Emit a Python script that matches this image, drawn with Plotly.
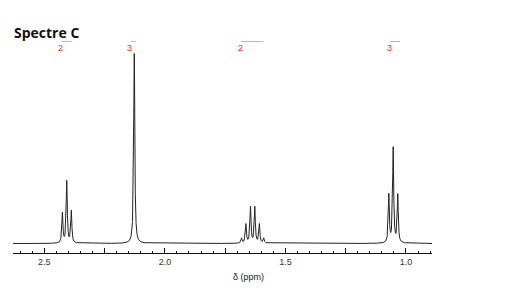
import numpy as np
import plotly.graph_objects as go

# ---- data ----
# individual resonance lines: chemical shift (ppm) and peak height (px above baseline)
line_ppm    = [2.425, 2.407, 2.388,            # triplet ~2.41
               2.127,                          # singlet
               1.682, 1.664, 1.645, 1.627, 1.608, 1.590,   # sextet ~1.64
               1.071, 1.053, 1.034]            # triplet ~1.05
line_height = [30, 62, 32,
               190,
               5, 19, 36, 36, 19, 5,
               48, 95, 48]
line_hwhm = 0.0026  # ppm

# integration regions and values
integ_start = [2.427, 2.142, 1.684, 1.066]
integ_end   = [2.385, 2.120, 1.592, 1.025]
integ_value = ["2", "3", "2", "3"]

tick_vals = [2.5, 2.25, 2.0, 1.75, 1.5, 1.25, 1.0]
tick_text = ["2.5", "", "2.0", "", "1.5", "", "1.0"]

x_min, x_max = 0.892, 2.630

# ---- spectrum (sum of Lorentzian lines) ----
x = np.arange(x_min, x_max, 0.0002)
y = np.zeros_like(x)
for p, h in zip(line_ppm, line_height):
    y += h / (1.0 + ((x - p) / line_hwhm) ** 2)

fig = go.Figure()
fig.add_trace(go.Scatter(x=x, y=y, mode="lines",
                         line=dict(color="#222222", width=1),
                         hoverinfo="skip", showlegend=False))

# integration lines + labels
for s, e, v in zip(integ_start, integ_end, integ_value):
    fig.add_shape(type="line", xref="x", yref="y", x0=s, x1=e, y0=202, y1=202,
                  line=dict(color="#f2a0a8", width=1))
    fig.add_annotation(x=s, y=196, xref="x", yref="y", text=v, showarrow=False,
                       xanchor="center", yanchor="middle", xshift=-1, borderpad=0,
                       font=dict(family="Liberation Sans, Arial", size=9, color="#ff1a1a"))

# title
fig.add_annotation(x=0, y=0.947, xref="paper", yref="paper", text="<b>Spectre C</b>",
                   showarrow=False, xanchor="left", yanchor="middle", borderpad=0,
                   font=dict(family="Open Sans, sans-serif", size=14, color="#111111"))

# axis title
fig.add_annotation(x=1.655, y=-0.103, xref="x", yref="paper", text="δ (ppm)",
                   showarrow=False, xanchor="center", yanchor="middle",
                   font=dict(family="Liberation Sans, Arial", size=9, color="#222222"))

fig.update_layout(
    width=532, height=300,
    margin=dict(l=13, r=100, t=20, b=47),
    paper_bgcolor="white", plot_bgcolor="white",
    xaxis=dict(range=[x_max, x_min], showgrid=False, zeroline=False,
               showline=True, linecolor="#111111", linewidth=1,
               ticks="inside", ticklen=5, tickwidth=1, tickcolor="#111111",
               tickvals=tick_vals, ticktext=tick_text,
               tickfont=dict(family="Liberation Sans, Arial", size=9, color="#333333"),
               minor=dict(dtick=0.05, ticks="inside", ticklen=2, tickcolor="#111111", showgrid=False)),
    yaxis=dict(range=[-9.5, 223.5], visible=False, showgrid=False, zeroline=False),
)

fig.write_html("out.html")
